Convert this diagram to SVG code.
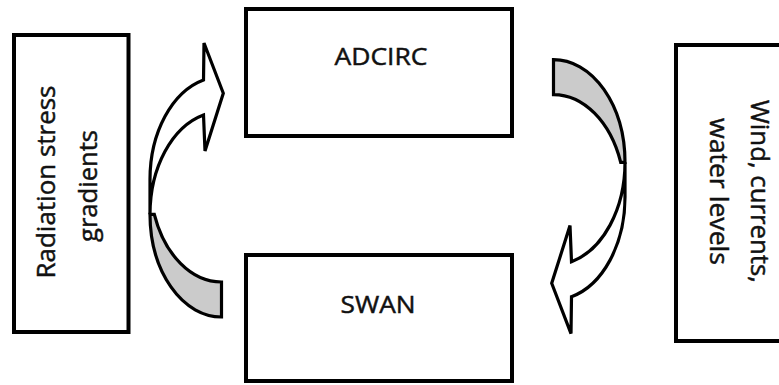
<svg xmlns="http://www.w3.org/2000/svg" xmlns:xlink="http://www.w3.org/1999/xlink" width="779" height="385" viewBox="0 0 779 385">
  <style>
    .box { fill: #ffffff; stroke: #000000; stroke-width: 4; }
    .label { font-family: "Open Sans", "Noto Sans", "Liberation Sans", sans-serif; fill: #111111; stroke: #111111; stroke-width: 0.45; text-anchor: middle; }
    .front { fill: #ffffff; stroke: #000000; stroke-width: 3.2; stroke-linejoin: miter; }
    .back { fill: #cbcbcb; stroke: #000000; stroke-width: 3.2; stroke-linejoin: miter; }
  </style>
  <defs>
    <!-- curved ribbon arrow: shaded back face near the tail, white front face up to the head -->
    <g id="curved-arrow">
      <path class="back" d="M 150 214.3 A 71.5 102.7 0 0 0 221.5 317 L 221.5 282 A 71.5 102.7 0 0 1 154.3 214.3 Z"/>
      <path class="front" d="M 150 179.3 A 71.5 102.7 0 0 1 203.5 79.9 L 204 43 L 223.3 93.3 L 205 151 L 203.5 114.9 A 71.5 102.7 0 0 0 150 214.3 Z"/>
    </g>
  </defs>

  <rect width="779" height="385" fill="#ffffff"/>

  <g id="node-radiation">
    <rect class="box" x="14" y="35" width="114.5" height="297"/>
    <text class="label" font-size="25" transform="translate(55,182) rotate(-90)" textLength="193" lengthAdjust="spacingAndGlyphs">Radiation stress</text>
    <text class="label" font-size="25" transform="translate(97,186) rotate(-90)" textLength="112" lengthAdjust="spacingAndGlyphs">gradients</text>
  </g>

  <g id="node-adcirc">
    <rect class="box" x="246" y="9" width="266" height="127"/>
    <text class="label" font-size="23.5" x="381" y="65" textLength="93" lengthAdjust="spacingAndGlyphs">ADCIRC</text>
  </g>

  <g id="node-swan">
    <rect class="box" x="246" y="255" width="266" height="126"/>
    <text class="label" font-size="23.5" x="378" y="313" textLength="75" lengthAdjust="spacingAndGlyphs">SWAN</text>
  </g>

  <g id="node-wind">
    <rect class="box" x="676" y="45" width="120" height="296"/>
    <text class="label" font-size="25" transform="translate(751,191.5) rotate(90)" textLength="183" lengthAdjust="spacingAndGlyphs">Wind, currents,</text>
    <text class="label" font-size="25" transform="translate(710,191.5) rotate(90)" textLength="147" lengthAdjust="spacingAndGlyphs">water levels</text>
  </g>

  <g id="connectors">
    <use xlink:href="#curved-arrow"/>
    <use xlink:href="#curved-arrow" transform="rotate(180 387.5 188.3)"/>
  </g>
</svg>
